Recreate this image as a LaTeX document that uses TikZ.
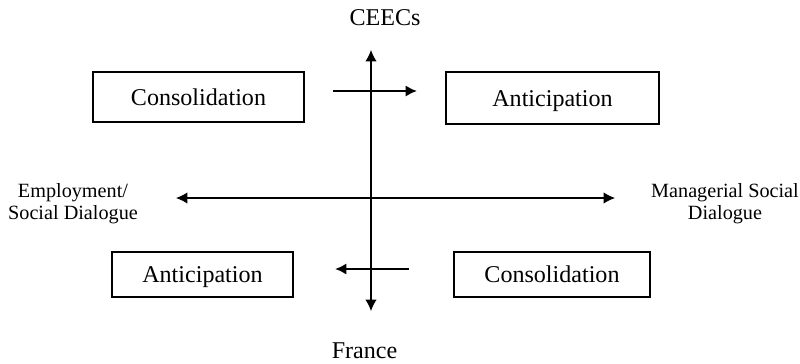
\documentclass[tikz,border=0pt]{standalone}
\usepackage{fontspec}
\setmainfont{Liberation Serif}
\usetikzlibrary{arrows.meta}
\tikzset{
	every node/.style={font=\fontsize{13.7}{16}\selectfont},
	box/.style={shape=rectangle,draw=black,line width=0.7pt,inner sep=0pt,text height=0.34cm,text depth=0.02cm},
	side-text/.style={align=center,font=\fontsize{11.5}{12.5}\selectfont},
}
\tikzstyle{axis} = [line width=0.6pt,{Latex[length=6.5pt,width=6.5pt]}-{Latex[length=6.5pt,width=6.5pt]}]
\tikzstyle{move-arrow} = [line width=1.3pt,-{Latex[length=6.5pt,width=6.5pt]}]

\begin{document}
\begin{tikzpicture}
	\useasboundingbox (0,0) rectangle (16,7.26);
	\node (ceecs) at (7.7,6.9) {CEECs};
	\node (france) at (7.29,0.24) {France};
	\node[side-text] (employment) at (1.46,3.18) {Employment/\\Social Dialogue};
	\node[side-text] (managerial) at (14.5,3.18) {Managerial Social\\Dialogue};
	
	\node[box,minimum width=4.22cm,minimum height=1cm] (cons-top) at (3.97,5.32) {Consolidation};
	\node[box,minimum width=4.26cm,minimum height=1.04cm] (anti-top) at (11.05,5.3) {Anticipation};
	\node[box,minimum width=3.62cm,minimum height=0.9cm] (anti-bot) at (4.05,1.77) {Anticipation};
	\node[box,minimum width=3.92cm,minimum height=0.9cm] (cons-bot) at (11.04,1.77) {Consolidation};
	
	\coordinate (v-top) at (7.42,6.26);
	\coordinate (v-bot) at (7.42,1.04);
	\coordinate (h-left) at (3.52,3.3);
	\coordinate (h-right) at (12.3,3.3);
	\coordinate (top-from) at (6.66,5.44);
	\coordinate (top-to) at (8.34,5.44);
	\coordinate (bot-from) at (8.18,1.88);
	\coordinate (bot-to) at (6.7,1.88);
	
	\draw[axis] (v-bot) -- (v-top);
	\draw[axis] (h-left) -- (h-right);
	\draw[move-arrow] (top-from) -- (top-to);
	\draw[move-arrow] (bot-from) -- (bot-to);
\end{tikzpicture}
\end{document}
